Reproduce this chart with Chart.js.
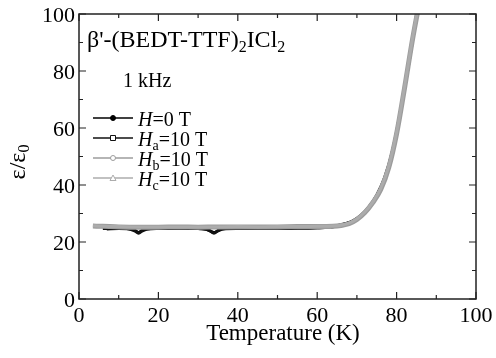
<!DOCTYPE html>
<html>
<head>
<meta charset="utf-8">
<script src="https://cdn.jsdelivr.net/npm/chart.js@4/dist/chart.umd.min.js"></script>
<style>
  html, body { margin: 0; padding: 0; background: #fff; }
</style>
</head>
<body>
<canvas id="eps_chart" width="496" height="358"></canvas>
<script>
// values: temperature (K) and eps/eps0
const tempsH0 = [7, 10, 13, 14, 15, 16, 17, 20, 25, 30, 32, 33, 34, 35, 36, 40, 45, 50, 55, 60, 63, 65, 67, 69, 71, 73, 75, 77, 79, 81, 83, 85, 87];
const epsH0   = [24.6, 24.7, 24.6, 24.2, 23.3, 24.2, 24.6, 24.7, 24.8, 24.7, 24.5, 23.9, 23.3, 24.0, 24.6, 24.7, 24.8, 24.8, 24.9, 25.0, 25.2, 25.7, 26.4, 27.4, 29.3, 32.2, 36.4, 42.6, 52.2, 66, 82.5, 99.5, 116];

const tempsHa = [6, 10, 12, 14, 15, 16, 18, 22, 27, 31, 33, 34, 35, 37, 42, 48, 54, 60, 63, 65, 67, 69, 71, 73, 75, 77, 79, 81, 83, 85, 87];
const epsHa   = [24.7, 24.8, 24.7, 23.9, 23.1, 23.9, 24.7, 24.8, 24.8, 24.7, 23.9, 23.1, 23.9, 24.7, 24.8, 24.8, 24.9, 25.0, 25.2, 25.6, 26.3, 27.3, 29.1, 31.9, 36.0, 42.0, 51.5, 65.5, 82, 99, 115];

const tempsHb = [3.5, 6, 10, 15, 20, 25, 30, 35, 40, 45, 50, 55, 60, 64, 66, 68, 70, 72, 74, 76, 78, 80, 82, 84, 86];
const epsHb   = [25.6, 25.5, 25.3, 25.2, 25.2, 25.3, 25.2, 25.3, 25.3, 25.3, 25.3, 25.4, 25.4, 25.5, 25.8, 26.4, 27.9, 30.3, 33.8, 38.4, 46, 58, 74, 91, 106];

const tempsHc = [3.5, 6, 10, 15, 20, 25, 30, 35, 40, 45, 50, 55, 60, 64, 66, 68, 70, 72, 74, 76, 78, 80, 82, 84, 86];
const epsHc   = [25.7, 25.5, 25.4, 25.3, 25.3, 25.3, 25.3, 25.3, 25.4, 25.3, 25.4, 25.4, 25.5, 25.6, 25.9, 26.6, 28.1, 30.5, 34, 38.8, 46.5, 58.5, 74.5, 91.5, 107];

const xTicks = [0, 20, 40, 60, 80, 100];
const yTicks = [0, 20, 40, 60, 80, 100];

// legend pieces: subscript on H and the field value
const seriesSubs   = ['', 'a', 'b', 'c'];
const seriesFields = ['0', '10', '10', '10'];

const SERIF = "'Liberation Serif', 'DejaVu Serif', serif";

function pts(xs, ys) {
    return xs.map((x, i) => ({ x: x, y: ys[i] }));
}

// draw text runs (normal / subscript / italic), returns total width
function drawRuns(ctx, x, y, runs, measureOnly) {
    let cx = x;
    runs.forEach(r => {
        ctx.font = (r.italic ? 'italic ' : '') + r.size + 'px ' + SERIF;
        if (!measureOnly) ctx.fillText(r.t, cx, y + (r.dy || 0));
        cx += ctx.measureText(r.t).width;
    });
    return cx - x;
}

const framePlugin = {
    id: 'frame',
    afterDatasetsDraw(chart) {
        const ctx = chart.ctx;
        const a = chart.chartArea;
        const xs = chart.scales.x, ys = chart.scales.y;
        ctx.save();
        ctx.strokeStyle = '#222';
        ctx.lineWidth = 1.5;
        ctx.strokeRect(a.left, a.top, a.right - a.left, a.bottom - a.top);

        // inward ticks on all four sides
        ctx.lineWidth = 1.2;
        ctx.beginPath();
        for (let v = 0; v <= 100; v += 10) {
            const len = v % 20 === 0 ? 7 : 4;
            const px = xs.getPixelForValue(v);
            ctx.moveTo(px, a.bottom); ctx.lineTo(px, a.bottom - len);
            ctx.moveTo(px, a.top); ctx.lineTo(px, a.top + len);
            const py = ys.getPixelForValue(v);
            ctx.moveTo(a.left, py); ctx.lineTo(a.left + len, py);
            ctx.moveTo(a.right, py); ctx.lineTo(a.right - len, py);
        }
        ctx.stroke();

        // tick labels
        ctx.fillStyle = '#000';
        ctx.font = '22px ' + SERIF;
        ctx.textBaseline = 'alphabetic';
        ctx.textAlign = 'center';
        xTicks.forEach(v => ctx.fillText(String(v), xs.getPixelForValue(v), a.bottom + 23));
        ctx.textAlign = 'right';
        yTicks.forEach(v => ctx.fillText(String(v), a.left - 4, ys.getPixelForValue(v) + 8));

        // axis titles
        ctx.textAlign = 'center';
        ctx.font = '23px ' + SERIF;
        ctx.fillText('Temperature (K)', 283, 340);

        ctx.textAlign = 'left';
        ctx.save();
        ctx.translate(25, 162);
        ctx.rotate(-Math.PI / 2);
        const yTitle = [{ t: 'ε/ε', size: 24 }, { t: '0', size: 16, dy: 4 }];
        const w = drawRuns(ctx, 0, 0, yTitle, true);
        drawRuns(ctx, -w / 2, 0, yTitle);
        ctx.restore();

        // compound name and frequency
        drawRuns(ctx, 87, 47, [
            { t: "β'-(BEDT-TTF)", size: 24 },
            { t: '2', size: 16, dy: 5 },
            { t: 'ICl', size: 24 },
            { t: '2', size: 16, dy: 5 }
        ]);
        ctx.font = '20px ' + SERIF;
        ctx.fillText('1 kHz', 123, 87);

        // legend
        chart.data.datasets.forEach((ds, i) => {
            const ly = 118 + i * 20;
            ctx.strokeStyle = ds.borderColor;
            ctx.lineWidth = 1.3;
            ctx.beginPath();
            ctx.moveTo(93, ly); ctx.lineTo(133, ly);
            ctx.stroke();
            const mx = 113;
            ctx.lineWidth = 1;
            ctx.beginPath();
            if (ds.pointStyle === 'rect') {
                ctx.fillStyle = '#fff';
                ctx.rect(mx - 2.5, ly - 2.5, 5, 5);
            } else if (ds.pointStyle === 'triangle') {
                ctx.fillStyle = '#fff';
                ctx.moveTo(mx, ly - 3); ctx.lineTo(mx + 3, ly + 2.5); ctx.lineTo(mx - 3, ly + 2.5); ctx.closePath();
            } else {
                ctx.fillStyle = ds.legendFill;
                ctx.arc(mx, ly, 2.5, 0, Math.PI * 2);
            }
            ctx.fill();
            ctx.stroke();
            ctx.fillStyle = '#000';
            drawRuns(ctx, 138, ly + 8, [
                { t: 'H', size: 20, italic: true },
                { t: seriesSubs[i], size: 14, dy: 4 },
                { t: '=' + seriesFields[i] + ' T', size: 20 }
            ]);
        });
        ctx.restore();
    }
};

const ctx = document.getElementById('eps_chart');
// "order": higher numbers are drawn first, so the grey runs end up on top
const eps_chart = new Chart(ctx, {
    type: 'line',
    data: {
        datasets: [{
            label: 'H=0 T',
            data: pts(tempsH0, epsH0),
            borderColor: '#000',
            borderWidth: 3,
            pointStyle: 'circle',
            legendFill: '#000',
            order: 4
        }, {
            label: 'Ha=10 T',
            data: pts(tempsHa, epsHa),
            borderColor: '#111',
            borderWidth: 3,
            pointStyle: 'rect',
            order: 3
        }, {
            label: 'Hb=10 T',
            data: pts(tempsHb, epsHb),
            borderColor: '#9c9c9c',
            borderWidth: 5,
            pointStyle: 'circle',
            legendFill: '#fff',
            order: 2
        }, {
            label: 'Hc=10 T',
            data: pts(tempsHc, epsHc),
            borderColor: '#acacac',
            borderWidth: 3,
            pointStyle: 'triangle',
            order: 1
        }]
    },
    options: {
        responsive: false,
        animation: false,
        cubicInterpolationMode: 'monotone',
        elements: { point: { radius: 0 } },
        layout: { padding: { left: 79, right: 20, top: 14, bottom: 59 } },
        scales: {
            x: { type: 'linear', min: 0, max: 100, display: false },
            y: { type: 'linear', min: 0, max: 100, display: false }
        },
        plugins: {
            legend: { display: false },
            tooltip: { enabled: false }
        }
    },
    plugins: [framePlugin]
});
</script>
</body>
</html>
